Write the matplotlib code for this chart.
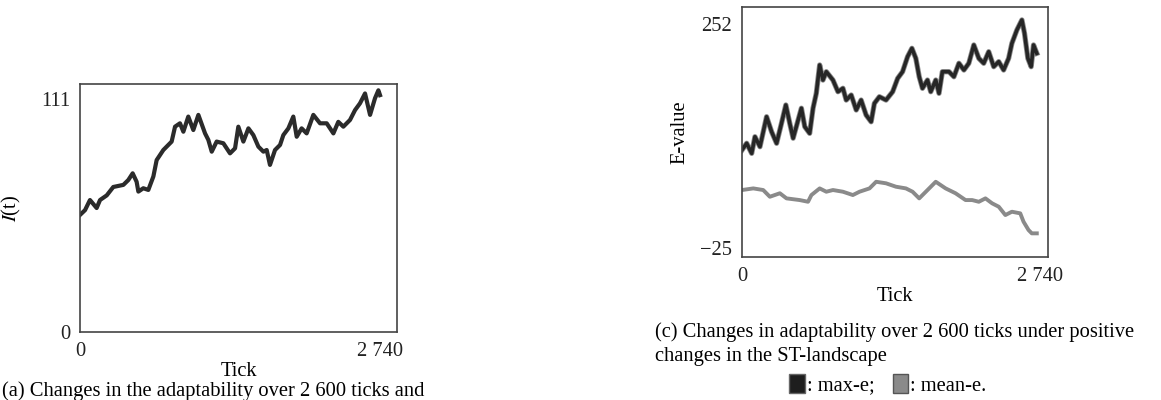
import matplotlib
matplotlib.use("Agg")
import matplotlib.pyplot as plt
from matplotlib.patches import Patch

plt.rcParams['font.family'] = ['Liberation Serif', 'DejaVu Serif']
plt.rcParams['mathtext.fontset'] = 'stix'

# --- (a) I(t) ---
tick_a = [0, 46, 91, 152, 183, 244, 304, 396, 441, 481, 517, 533, 578, 624, 670,
          700, 761, 837, 868, 913, 944, 989, 1035, 1081, 1142, 1172, 1203, 1248,
          1309, 1370, 1416, 1446, 1492, 1538, 1583, 1629, 1675, 1705, 1735, 1781,
          1827, 1857, 1903, 1948, 1979, 2024, 2070, 2131, 2192, 2253, 2314, 2359,
          2405, 2466, 2512, 2557, 2603, 2649, 2694, 2725, 2740]
it_a = [55.7, 58, 62.8, 59, 62.8, 65, 69, 70, 72.3, 75.5, 71.5, 66.8, 68.4, 67.6, 74,
        81.8, 86.6, 90.6, 97.7, 99.3, 95.3, 102.5, 96.1, 103.3, 94.5, 91.4, 85.8, 90.6,
        89.8, 85, 87.4, 97.7, 90.6, 96.9, 93.7, 88.2, 85.8, 86.6, 79.5, 86.6,
        89, 93.7, 96.9, 102.5, 92.9, 96.9, 94.5, 103.3, 99.3, 99.3, 94.5, 100,
        97.7, 100.9, 105.6, 108.8, 113.5, 103.3, 111.2, 115, 112.7]

# --- (c) max-e / mean-e ---
tick_max = [0, 43, 89, 119, 165, 226, 272, 318, 363, 403, 439, 470, 516, 546, 577,
            622, 653, 683, 714, 744, 775, 836, 882, 928, 958, 1004, 1050, 1095, 1141,
            1187, 1217, 1263, 1324, 1385, 1431, 1476, 1522, 1562, 1598, 1629, 1659,
            1705, 1735, 1781, 1811, 1842, 1903, 1948, 1994, 2040, 2085, 2131, 2177,
            2222, 2268, 2314, 2360, 2405, 2451, 2481, 2527, 2573, 2597, 2628, 2658,
            2680, 2710]
max_e = [96.4, 104.7, 92.3, 112.8, 100.5, 137.5, 119, 104.7, 129.4, 152, 129.4, 111,
         133.4, 148, 125.2, 117, 148, 166.4, 201.4, 182.8, 193.1, 182.8, 168.4, 172.6,
         158.1, 164.3, 145.8, 158.1, 139.6, 131.3, 154, 162.2, 158.1, 168.4, 184.9,
         193.1, 211.6, 222, 209.6, 186.9, 172.6, 182.8, 168.4, 182.8, 166.4, 193.1,
         193.1, 186.9, 203.5, 195.2, 203.5, 226.1, 209.6, 203.5, 217.8, 199.3, 205.5,
         195.2, 209.6, 228.1, 244.6, 257, 240.5, 209.6, 199.3, 226.1, 215.8]

tick_mean = [0, 104, 195, 256, 348, 409, 531, 607, 638, 714, 775, 836, 928, 1019, 1080,
             1172, 1233, 1324, 1415, 1507, 1568, 1629, 1690, 1781, 1872, 1963, 2055,
             2116, 2177, 2238, 2299, 2360, 2421, 2481, 2558, 2588, 2634, 2664, 2710]
mean_e = [47, 49, 47, 38.7, 43, 36.7, 34.6, 32.5, 40.8, 49, 44.9, 47, 44.9, 40.8, 44.9,
          49, 57.2, 55.3, 51.1, 49, 44.9, 36.7, 44.9, 57.2, 49, 43, 34.6,
          34.6, 32.5, 36.7, 30.6, 26.4, 16.1, 20.2, 18.2, 7.9, -2.4, -6.5, -6.5]

fig = plt.figure(figsize=(11.61, 4.0), dpi=100)
fs = 14.8

def style(ax):
    for s in ax.spines.values():
        s.set_color('#444444')
        s.set_linewidth(1.2)
    ax.tick_params(length=0, labelsize=fs, pad=7, colors='#222222')

ax1 = fig.add_axes([80 / 1161, 1 - 332 / 400, 317 / 1161, 248 / 400])
ax1.plot(tick_a, it_a, color='#2b2b2b', lw=3.0)
ax1.set_xlim(0, 2895)
ax1.set_ylim(0, 118)
ax1.set_xticks([0, 2740], ['0', '2 740'])
ax1.set_yticks([0, 111], ['0', '111'])
ax1.set_xlabel('Tick', fontsize=fs, labelpad=1)
ax1.set_ylabel(r'$I$(t)', fontsize=fs, labelpad=13)
style(ax1)

ax2 = fig.add_axes([742 / 1161, 1 - 257 / 400, 306 / 1161, 250 / 400])
ax2.plot(tick_mean, mean_e, color='#8a8a8a', lw=2.8)
ax2.plot(tick_max, max_e, color='#8a8a8a', lw=3.8)
ax2.plot(tick_max, max_e, color='#262626', lw=2.6)
ax2.set_xlim(0, 2813)
ax2.set_ylim(-35.7, 273)
ax2.set_xticks([0, 2740], ['0', '2 740'])
ax2.set_yticks([-25, 252], ['\u221225', '252'])
ax2.set_xlabel('Tick', fontsize=fs, labelpad=1)
ax2.set_ylabel('E-value', fontsize=fs, labelpad=8)
style(ax2)

fig.text(2 / 1161, -1 / 400, '(a) Changes in the adaptability over 2 600 ticks and',
         fontsize=fs, va='bottom', ha='left')
fig.text(655 / 1161, 1 - 332 / 400,
         '(c) Changes in adaptability over 2 600 ticks under positive',
         fontsize=fs, va='center', ha='left')
fig.text(655 / 1161, 1 - 357 / 400, 'changes in the ST-landscape',
         fontsize=fs, va='center', ha='left')

handles = [Patch(facecolor='#1e1e1e', edgecolor='#666666'),
           Patch(facecolor='#8a8a8a', edgecolor='#555555')]
fig.legend(handles, [': max-e;', ': mean-e.'], loc='center',
           bbox_to_anchor=(888 / 1161, 1 - 385 / 400), ncol=2, frameon=False,
           fontsize=fs, handlelength=0.75, handleheight=1.0, handletextpad=0.1,
           columnspacing=0.9, borderpad=0)

fig.savefig('out.png', dpi=100)
